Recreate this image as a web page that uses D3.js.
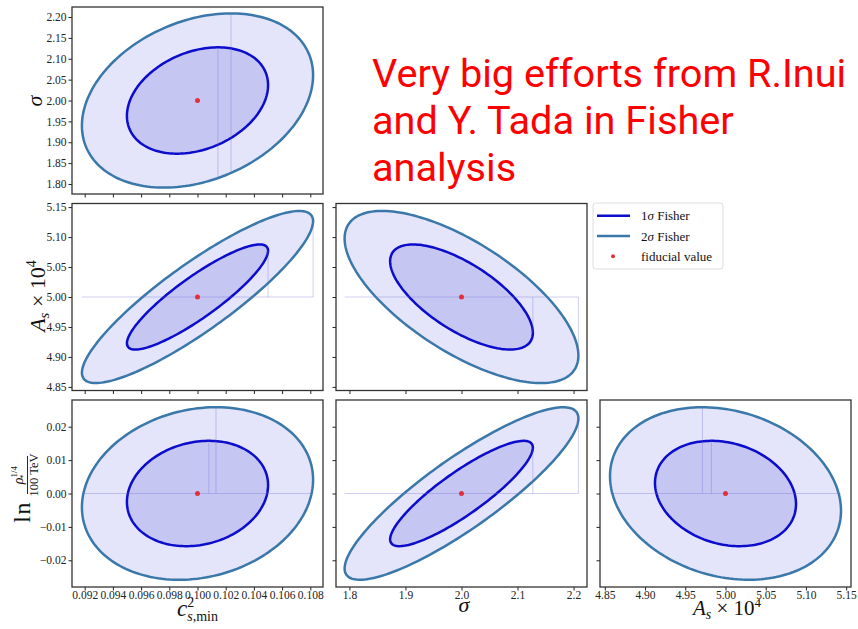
<!DOCTYPE html>
<html>
<head>
<meta charset="utf-8">
<script src="https://cdn.jsdelivr.net/npm/d3@7"></script>
<style>
body { margin: 0; background: #fff; }
svg { display: block; }
.tick text { font-family: "Liberation Serif", serif; font-size: 11.5px; fill: #222; }
.tick line { stroke: #222; }
.lbl { font-family: "Liberation Serif", serif; fill: #111; }
</style>
</head>
<body>
<svg id="chart" width="858" height="629"></svg>
<script>
// parameters: c_s,min^2, sigma, A_s x 10^4, ln(rho^1/4 / 100 TeV)
var fiducial = [0.100, 2.00, 5.00, 0.000];
var sigmas = [0.0033, 0.084, 0.0578, 0.0104];
var axisLimits = [[0.0911, 0.1089], [1.776, 2.224], [4.844, 5.156], [-0.028, 0.028]];
var xTicks = [
	[0.092, 0.094, 0.096, 0.098, 0.100, 0.102, 0.104, 0.106, 0.108],
	[1.8, 1.9, 2.0, 2.1, 2.2],
	[4.85, 4.90, 4.95, 5.00, 5.05, 5.10, 5.15]
];
var yTicks = [
	null,
	[1.80, 1.85, 1.90, 1.95, 2.00, 2.05, 2.10, 2.15, 2.20],
	[4.85, 4.90, 4.95, 5.00, 5.05, 5.10, 5.15],
	[-0.02, -0.01, 0.00, 0.01, 0.02]
];
var xFormats = [".3f", ".1f", ".2f"];
var yFormats = [null, ".2f", ".2f", ".2f"];

// lower-triangle panels
var panelCol = [0, 0, 1, 0, 1, 2];
var panelRow = [0, 1, 1, 2, 2, 2];
var panelRho = [0.29, 0.88, -0.68, 0.16, 0.87, -0.20];
var panelSeam = ["chord", "right", "right", "top", "right", "top"];

var deltaChi2 = [6.17, 2.30];  // 2 sigma, 1 sigma
var contourLabels = ["2σ Fisher", "1σ Fisher"];
var titleLines = ["Very big efforts from R.Inui", "and Y. Tada in Fisher", "analysis"];

var colX = [72, 336, 600];
var rowY = [7, 203.5, 400];
var pw = 251, ph = 187;
var strokeColors = ["#3b78aa", "#0c0ccc"];
var fillColors = ["#e4e4fa", "#c6c6f2"];

var svg = d3.select("#chart");

function ellipsePoints(mx, my, sx, sy, rho, k) {
	var pts = [];
	var s = Math.sqrt(1 - rho * rho);
	for (var i = 0; i <= 180; i++) {
		var t = 2 * Math.PI * i / 180;
		pts.push([mx + k * sx * Math.cos(t), my + k * sy * (rho * Math.cos(t) + s * Math.sin(t))]);
	}
	return pts;
}

panelCol.forEach(function(col, p) {
	var row = panelRow[p];
	var xi = col, yi = row + 1;
	var x0 = colX[col], y0 = rowY[row];
	var x = d3.scaleLinear().domain(axisLimits[xi]).range([x0, x0 + pw]);
	var y = d3.scaleLinear().domain(axisLimits[yi]).range([y0 + ph, y0]);
	var g = svg.append("g");
	var mx = fiducial[xi], my = fiducial[yi], sx = sigmas[xi], sy = sigmas[yi], rho = panelRho[p];
	var line = d3.line().x(function(d) { return x(d[0]); }).y(function(d) { return y(d[1]); }).curve(d3.curveLinearClosed);

	deltaChi2.forEach(function(d2, i) {
		var k = Math.sqrt(d2);
		g.append("path")
			.attr("d", line(ellipsePoints(mx, my, sx, sy, rho, k)))
			.attr("fill", fillColors[i])
			.attr("stroke", strokeColors[i])
			.attr("stroke-width", 2.5);
	});

	// faint patch seams
	var seam = g.append("g").attr("stroke", "#6a6ad8").attr("stroke-opacity", 0.32).attr("stroke-width", 1);
	var kOut = Math.sqrt(deltaChi2[0]);
	var s = Math.sqrt(1 - rho * rho);
	if (panelSeam[p] != "chord") {
		seam.append("line")
			.attr("x1", x(mx - kOut * sx)).attr("x2", x(mx + kOut * sx))
			.attr("y1", y(my)).attr("y2", y(my));
	}
	deltaChi2.forEach(function(d2) {
		var k = Math.sqrt(d2);
		var vx, ya, yb;
		if (panelSeam[p] == "right") {
			vx = mx + k * sx; ya = my; yb = my + k * sy * rho;
		} else if (panelSeam[p] == "top") {
			vx = mx + k * sx * rho; ya = my; yb = my + k * sy;
		} else {
			vx = mx + k * sx * rho; yb = my + k * sy;
			var c = (vx - mx) / (kOut * sx);
			ya = my + kOut * sy * (rho * c - s * Math.sqrt(1 - c * c));
		}
		seam.append("line").attr("x1", x(vx)).attr("x2", x(vx)).attr("y1", y(ya)).attr("y2", y(yb));
	});

	g.append("circle").attr("cx", x(mx)).attr("cy", y(my)).attr("r", 2.5).attr("fill", "#e5303c");

	var xAxis = d3.axisBottom(x).tickValues(xTicks[xi]).tickSize(3.5).tickPadding(0)
		.tickFormat(row == 2 ? d3.format(xFormats[xi]) : "");
	var yAxis = d3.axisLeft(y).tickValues(yTicks[yi]).tickSize(3.5).tickPadding(2)
		.tickFormat(col == 0 ? d3.format(yFormats[yi]) : "");
	g.append("g").attr("transform", "translate(0," + (y0 + ph) + ")").call(xAxis).call(function(a) { a.select(".domain").remove(); });
	g.append("g").attr("transform", "translate(" + x0 + ",0)").call(yAxis).call(function(a) { a.select(".domain").remove(); });

	g.append("rect").attr("x", x0).attr("y", y0).attr("width", pw).attr("height", ph)
		.attr("fill", "none").attr("stroke", "#333").attr("stroke-width", 1.3);
});

// axis labels
var t;
t = svg.append("text").attr("class", "lbl").attr("transform", "translate(42,101) rotate(-90)")
	.attr("text-anchor", "middle").attr("font-size", 22).attr("font-style", "italic").text("σ");

t = svg.append("text").attr("class", "lbl").attr("transform", "translate(45,296) rotate(-90)")
	.attr("text-anchor", "middle").attr("font-size", 22);
t.append("tspan").attr("font-style", "italic").text("A");
t.append("tspan").attr("font-style", "italic").attr("font-size", 15).attr("dy", 4).text("s");
t.append("tspan").attr("dy", -4).text(" × 10");
t.append("tspan").attr("font-size", 14).attr("dy", -9).text("4");

var gl = svg.append("g").attr("class", "lbl").attr("transform", "translate(30,494) rotate(-90)");
gl.append("text").attr("x", -7).attr("y", 0).attr("text-anchor", "end").attr("font-size", 24).attr("letter-spacing", 1.5).text("ln");
gl.append("line").attr("x1", 0).attr("x2", 38).attr("y1", -2.5).attr("y2", -2.5).attr("stroke", "#111").attr("stroke-width", 0.9);
gl.append("text").attr("x", 19).attr("y", 8).attr("text-anchor", "middle").attr("font-size", 12.5).text("100 TeV");
t = gl.append("text").attr("x", 19).attr("y", -7).attr("text-anchor", "middle").attr("font-size", 14);
t.append("tspan").attr("font-style", "italic").text("ρ");
t.append("tspan").attr("font-size", 9).attr("dy", -6).text("1/4");
t.append("tspan").attr("font-size", 9).attr("dx", -13).attr("dy", 9).text("*");

t = svg.append("text").attr("class", "lbl").attr("x", 177).attr("y", 616).attr("font-size", 23);
t.append("tspan").attr("font-style", "italic").text("c");
t.append("tspan").attr("font-size", 14).attr("dy", -9).text("2");
t.append("tspan").attr("font-size", 14).attr("font-style", "italic").attr("dx", -7).attr("dy", 14).text("s");
t.append("tspan").attr("font-size", 14).text(",min");

svg.append("text").attr("class", "lbl").attr("x", 464).attr("y", 612)
	.attr("text-anchor", "middle").attr("font-size", 22).attr("font-style", "italic").text("σ");

t = svg.append("text").attr("class", "lbl").attr("x", 727).attr("y", 615)
	.attr("text-anchor", "middle").attr("font-size", 21);
t.append("tspan").attr("font-style", "italic").text("A");
t.append("tspan").attr("font-style", "italic").attr("font-size", 14).attr("dy", 4).text("s");
t.append("tspan").attr("dy", -4).text(" × 10");
t.append("tspan").attr("font-size", 13).attr("dy", -8).text("4");

// legend
var lg = svg.append("g").attr("transform", "translate(593,203)");
lg.append("rect").attr("width", 130).attr("height", 66).attr("rx", 3)
	.attr("fill", "#fff").attr("stroke", "#dedede");
var legendItems = [contourLabels[1], contourLabels[0], "fiducial value"];
var legendColors = [strokeColors[1], strokeColors[0], "#e5303c"];
legendItems.forEach(function(name, i) {
	var ly = 12.7 + i * 20.3;
	if (i < 2) {
		lg.append("line").attr("x1", 4).attr("x2", 37).attr("y1", ly).attr("y2", ly)
			.attr("stroke", legendColors[i]).attr("stroke-width", 2.5);
	} else {
		lg.append("circle").attr("cx", 20).attr("cy", ly).attr("r", 2).attr("fill", legendColors[i]);
	}
	var lt = lg.append("text").attr("class", "lbl").attr("x", 48).attr("y", ly + 4.5).attr("font-size", 13);
	if (i < 2) {
		lt.append("tspan").text(name.charAt(0));
		lt.append("tspan").attr("font-style", "italic").text(name.charAt(1));
		lt.append("tspan").text(name.slice(2));
	} else {
		lt.text(name);
	}
});

// red note
svg.append("g").selectAll("text").data(titleLines).enter().append("text")
	.attr("x", 372).attr("y", function(d, i) { return 87 + i * 47; })
	.attr("font-family", "Roboto").attr("font-size", 39.7).attr("fill", "#ff0000")
	.text(function(d) { return d; });
</script>
</body>
</html>
